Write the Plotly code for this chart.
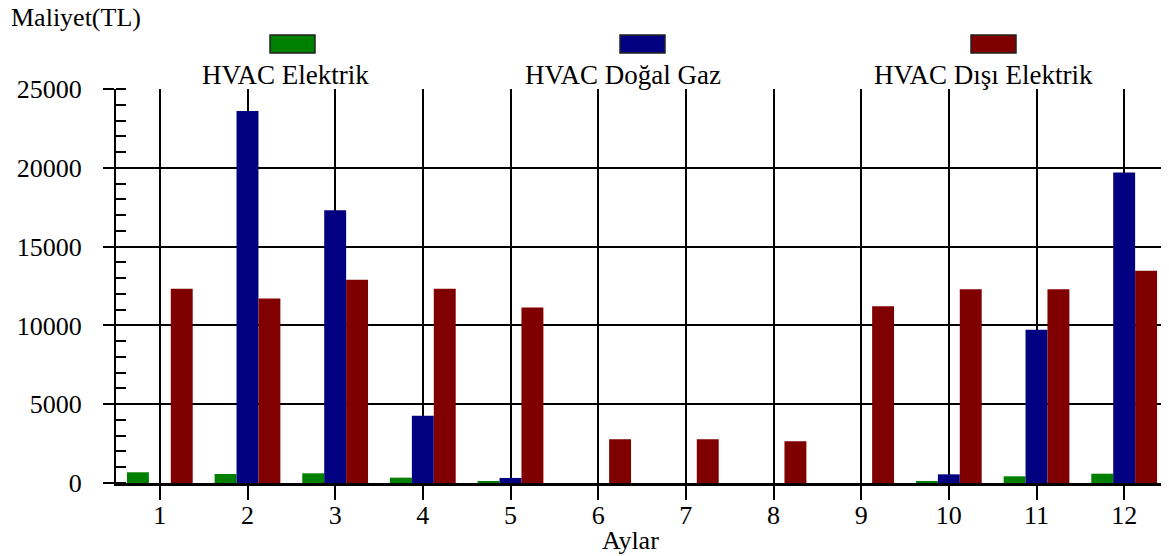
import plotly.graph_objects as go

months = [str(i) for i in range(1, 13)]
hvac_elektrik = [680, 570, 615, 340, 90, 0, 0, 0, 0, 70, 425, 590]
hvac_dogalgaz = [0, 23600, 17300, 4260, 320, 0, 0, 0, 0, 550, 9730, 19700]
hvac_disi_elektrik = [12320, 11700, 12890, 12320, 11130, 2780, 2780, 2650, 11210, 12300, 12300, 13470]
y_tickvals = [0, 5000, 10000, 15000, 20000, 25000]
y_ticktext = ["0", "5000", "10000", "15000", "20000", "25000"]

series_names = ["HVAC Elektrik", "HVAC Doğal Gaz", "HVAC Dışı Elektrik"]
series_colors = ["#008000", "#000080", "#800000"]
series_values = [hvac_elektrik, hvac_dogalgaz, hvac_disi_elektrik]

FONT = "Liberation Serif, Times New Roman, serif"
OFF = 8  # page body margin
WIN_W, WIN_H = 1169, 556
W, H = WIN_W - OFF, WIN_H - OFF
# reference pixel positions of plot area
REF_L, REF_R, REF_T, REF_B = 116, 1168, 89, 483
L, T = REF_L - OFF, REF_T - OFF
R = W - (REF_R - OFF)
B = H - (REF_B - OFF)
PW, PH = W - L - R, H - T - B


def px(x):
    return (x - OFF - L) / PW


def py(y):
    return (REF_B - y) / PH


fig = go.Figure()
for name, color, vals in zip(series_names, series_colors, series_values):
    fig.add_trace(go.Bar(x=months, y=vals, name=name, marker_color=color,
                         marker_line_width=0, showlegend=False))

# custom legend: swatch above label
swatch_left = [270, 620, 971]
label_cx = [285, 623, 983]
for name, color, sx, lx in zip(series_names, series_colors, swatch_left, label_cx):
    fig.add_shape(type="rect", xref="paper", yref="paper",
                  x0=px(sx), x1=px(sx + 45), y0=py(53), y1=py(35),
                  fillcolor=color, line=dict(color="#222222", width=1.5))
    fig.add_annotation(x=px(lx), y=py(75), xref="paper", yref="paper",
                       text=name, showarrow=False, xanchor="center", yanchor="middle",
                       font=dict(family=FONT, size=27, color="black"))

fig.add_annotation(x=px(9), y=py(18), xref="paper", yref="paper", text="Maliyet(TL)",
                   showarrow=False, xanchor="left", yanchor="middle",
                   font=dict(family=FONT, size=26, color="black"))
fig.add_annotation(x=px(630), y=py(540), xref="paper", yref="paper", text="Aylar",
                   showarrow=False, xanchor="center", yanchor="middle",
                   font=dict(family=FONT, size=26, color="black"))

fig.update_layout(
    width=W, height=H,
    margin=dict(l=L, r=R, t=T, b=B, autoexpand=False),
    paper_bgcolor="white", plot_bgcolor="white",
    barmode="group", bargap=0.25, bargroupgap=0,
    font=dict(family=FONT, size=26, color="black"),
)
fig.update_xaxes(
    type="category", range=[-0.5, 11.5],
    showline=True, linecolor="black", linewidth=3,
    ticks="outside", ticklen=14, tickwidth=2, tickcolor="black",
    showgrid=True, gridcolor="black", gridwidth=2,
    tickfont=dict(family=FONT, size=26, color="black"),
    ticklabelstandoff=-7,
)
fig.update_yaxes(
    range=[0, 25000], tickvals=y_tickvals, ticktext=y_ticktext,
    showline=True, linecolor="black", linewidth=2,
    ticks="outside", ticklen=11, tickwidth=2, tickcolor="black",
    showgrid=True, gridcolor="black", gridwidth=2,
    zeroline=False,
    tickfont=dict(family=FONT, size=26, color="black"),
    ticklabelstandoff=16,
    minor=dict(ticks="inside", ticklen=10, tickwidth=2, tickcolor="black",
               dtick=1000, tick0=0, showgrid=False),
)

fig.write_html("out.html")
